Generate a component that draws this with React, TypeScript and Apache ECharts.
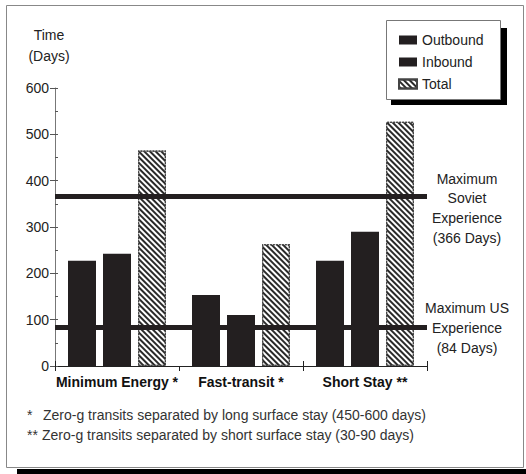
import React, { useEffect, useRef } from "react";
import * as echarts from "echarts";

const categories = ["Minimum Energy *", "Fast-transit *", "Short Stay **"];
const outbound = [227, 153, 227];
const inbound = [242, 110, 290];
const total = [465, 263, 527];
const yTicks = [0, 100, 200, 300, 400, 500, 600];
const sovietMax = 366;
const usMax = 84;
const sovietLabel = "Maximum\nSoviet\nExperience\n(366 Days)";
const usLabel = "Maximum US\nExperience\n(84 Days)";
const footnote1 = "Zero-g transits separated by long surface stay (450-600 days)";
const footnote2 = "Zero-g transits separated by short surface stay (30-90 days)";

const FONT = "Liberation Sans, Arial, Helvetica, sans-serif";
const DARK = "#231f20";

export default function App() {
  const ref = useRef<HTMLDivElement>(null);
  useEffect(() => {
    if (!ref.current) return;
    const chart = echarts.init(ref.current, undefined, { renderer: "svg" });
    const hatch = {
      symbol: "rect",
      symbolSize: 1,
      dashArrayX: [1, 0],
      dashArrayY: [1.6, 1.6],
      rotation: Math.PI / 4,
      color: "#2a2a2a",
    };
    chart.setOption({
      animation: false,
      backgroundColor: "#ffffff",
      textStyle: { fontFamily: FONT },
      grid: { left: 55, right: 99, top: 88, bottom: 108, containLabel: false },
      legend: {
        orient: "vertical",
        left: 393,
        top: 28,
        itemWidth: 18,
        itemHeight: 9,
        itemGap: 8,
        icon: "rect",
        textStyle: { fontSize: 14, color: "#222", fontFamily: FONT },
        data: ["Outbound", "Inbound", "Total"],
      },
      xAxis: [
        {
          type: "category",
          data: categories,
          boundaryGap: true,
          axisLine: { lineStyle: { color: "#222", width: 1 } },
          axisTick: { show: true, length: 5, lineStyle: { color: "#222" } },
          axisLabel: {
            interval: 0,
            hideOverlap: false,
            fontSize: 14,
            fontWeight: "bold",
            color: "#111",
            margin: 9,
            fontFamily: FONT,
          },
        },
        {
          type: "category",
          data: categories,
          position: "bottom",
          boundaryGap: true,
          axisLine: { show: false },
          axisTick: { show: true, inside: true, length: 5, lineStyle: { color: "#222" } },
          axisLabel: { show: false },
        },
      ],
      yAxis: [
        {
          type: "value",
          min: yTicks[0],
          max: yTicks[yTicks.length - 1],
          interval: 100,
          axisLine: { show: true, lineStyle: { color: "#777", width: 1 } },
          axisTick: { show: true, length: 5, lineStyle: { color: "#555" } },
          splitLine: { show: false },
          axisLabel: { fontSize: 14, color: "#222", margin: 6, fontFamily: FONT },
        },
        {
          type: "value",
          min: 0,
          max: 600,
          interval: 50,
          position: "left",
          axisLine: { show: false },
          axisTick: { show: true, inside: true, length: 3, lineStyle: { color: "#555" } },
          splitLine: { show: false },
          axisLabel: { show: false },
        },
      ],
      series: [
        {
          name: "Outbound",
          type: "bar",
          data: outbound,
          barWidth: 28,
          barGap: "25%",
          itemStyle: { color: DARK },
          markLine: {
            silent: true,
            symbol: "none",
            label: { show: false },
            lineStyle: { color: DARK, width: 5, type: "solid" },
            data: [{ yAxis: sovietMax }, { yAxis: usMax }],
          },
        },
        {
          name: "Inbound",
          type: "bar",
          data: inbound,
          barWidth: 28,
          barGap: "25%",
          itemStyle: { color: DARK },
        },
        {
          name: "Total",
          type: "bar",
          data: total,
          barWidth: 28,
          barGap: "25%",
          itemStyle: {
            color: "#ffffff",
            borderColor: "#444",
            borderWidth: 1.2,
            borderType: [2, 1],
            decal: hatch,
          },
        },
      ],
      graphic: [
        {
          type: "rect",
          z: -10,
          shape: { x: 17, y: 469, width: 509, height: 5 },
          style: { fill: "#000" },
          silent: true,
        },
        {
          type: "rect",
          z: -9,
          shape: { x: 6.5, y: 5.5, width: 517, height: 462 },
          style: { fill: "#fff", stroke: "#888", lineWidth: 1 },
          silent: true,
        },
        {
          type: "rect",
          z: -8,
          shape: { x: 391, y: 28, width: 116, height: 77 },
          style: { fill: "#000" },
          silent: true,
        },
        {
          type: "rect",
          z: -7,
          shape: { x: 386.5, y: 20.5, width: 114, height: 79 },
          style: { fill: "#fff", stroke: "#777", lineWidth: 1 },
          silent: true,
        },
        {
          type: "text",
          x: 49,
          y: 24,
          style: {
            text: "Time\n(Days)",
            fontSize: 14,
            lineHeight: 21,
            fill: "#222",
            align: "center",
            verticalAlign: "top",
            fontFamily: FONT,
          },
          silent: true,
        },
        {
          type: "text",
          x: 467,
          y: 169,
          style: {
            text: sovietLabel,
            fontSize: 14,
            lineHeight: 19.6,
            fill: "#222",
            align: "center",
            verticalAlign: "top",
            fontFamily: FONT,
          },
          silent: true,
        },
        {
          type: "text",
          x: 467,
          y: 298,
          style: {
            text: usLabel,
            fontSize: 14,
            lineHeight: 19.8,
            fill: "#222",
            align: "center",
            verticalAlign: "top",
            fontFamily: FONT,
          },
          silent: true,
        },
        {
          type: "text",
          x: 27,
          y: 408,
          style: { text: "*", fontSize: 14, fill: "#333", fontFamily: FONT, verticalAlign: "top" },
          silent: true,
        },
        {
          type: "text",
          x: 43,
          y: 408,
          style: { text: footnote1, fontSize: 14, fill: "#333", fontFamily: FONT, verticalAlign: "top" },
          silent: true,
        },
        {
          type: "text",
          x: 27,
          y: 428,
          style: { text: "**", fontSize: 14, fill: "#333", fontFamily: FONT, verticalAlign: "top" },
          silent: true,
        },
        {
          type: "text",
          x: 42,
          y: 428,
          style: { text: footnote2, fontSize: 14, fill: "#333", fontFamily: FONT, verticalAlign: "top" },
          silent: true,
        },
      ],
    });
    return () => chart.dispose();
  }, []);
  return (
    <div
      ref={ref}
      style={{ position: "absolute", left: 0, top: 0, width: 526, height: 474 }}
    />
  );
}
